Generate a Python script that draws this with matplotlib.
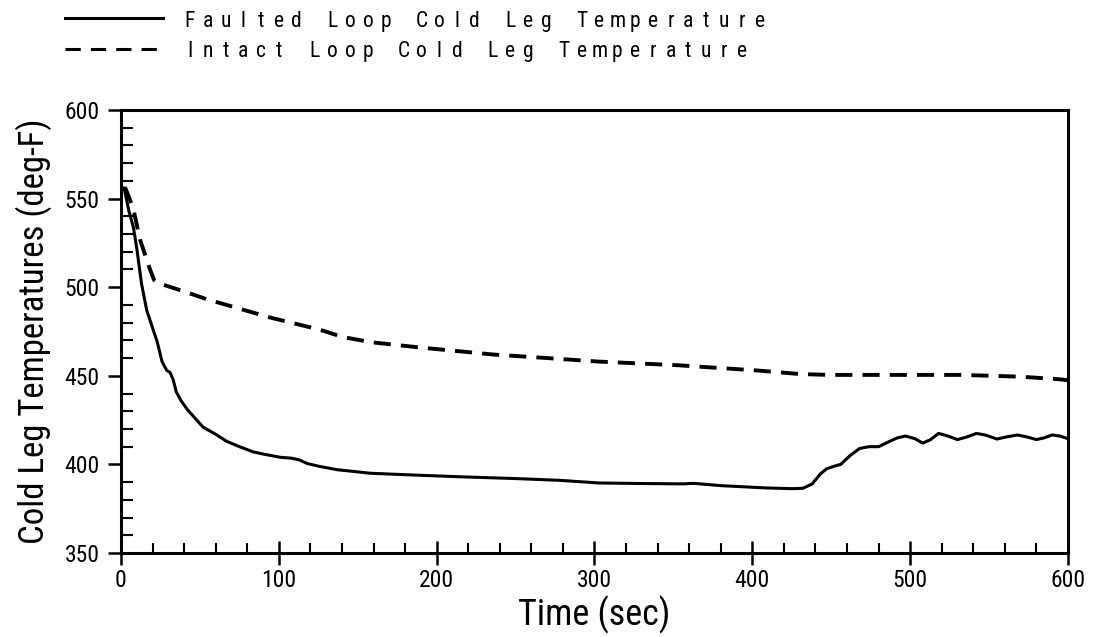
import matplotlib
matplotlib.use("Agg")
import matplotlib.pyplot as plt
from matplotlib import font_manager as fm
from matplotlib.lines import Line2D
from matplotlib.ticker import MultipleLocator

# faulted loop cold leg temperature (solid)
faulted_time = [0, 2, 5, 7.8, 10, 13, 16.3, 20, 23, 26, 29, 31, 33, 35, 38, 42, 47, 52,
                60, 67, 75, 84, 92, 101, 108, 113, 118, 125, 137, 158, 185, 215, 250, 278,
                303, 330, 356, 363, 380, 409, 425, 432, 438, 443, 447, 452, 456, 462, 468,
                474, 480, 487, 492, 497, 503, 508, 513, 518, 524, 530, 536, 542, 548, 555,
                561, 568, 574, 580, 585, 590, 595, 600]
faulted_temp = [556, 556, 543, 534, 522, 502, 487, 477, 469, 458, 453, 452, 448, 441, 436,
                431, 426, 421, 417, 413, 410, 407, 405.5, 404, 403.5, 402.5, 400.5, 399, 397,
                395, 394, 393, 392, 391, 389.5, 389.2, 389, 389.3, 388, 386.7, 386.3, 386.5,
                389, 394.5, 397.5, 399, 400, 405, 409, 410, 410, 413, 415, 416, 414.5, 412,
                414, 417.5, 416, 414, 415.5, 417.5, 416.5, 414.3, 415.5, 416.6, 415.5, 414,
                415, 416.6, 416, 414.5]

# intact loop cold leg temperature (dashed)
intact_time = [2.5, 7.6, 12, 18.4, 21, 23, 42, 55, 63, 94, 126, 140, 158, 189, 236, 270,
               303, 352, 403, 430, 449, 533, 570, 595, 600]
intact_temp = [556.5, 545, 527, 510, 504, 502.5, 497, 493, 491, 483, 476, 472, 469, 466,
               462, 460, 458, 456, 453, 451, 450.5, 450.5, 449.5, 448, 447.5]

legend_labels = ["Faulted Loop Cold Leg Temperature",
                 "Intact Loop Cold Leg Temperature"]

# pick a narrow sans font if one is installed
names = {f.name for f in fm.fontManager.ttflist}
narrow = "DejaVu Sans"
stretch = "normal"
for cand in ["Liberation Sans Narrow", "Roboto Condensed", "Open Sans Condensed"]:
    if cand in names:
        narrow = cand
        break
else:
    if any(f.name == "DejaVu Sans" and f.stretch == "condensed" for f in fm.fontManager.ttflist):
        stretch = "condensed"

fig = plt.figure(figsize=(10.94, 6.37), dpi=100)
ax = fig.add_axes([0.1106, 0.1319, 0.8656, 0.6954])

ax.plot(faulted_time, faulted_temp, color="black", lw=2.2)
ax.plot(intact_time, intact_temp, color="black", lw=2.8, linestyle=(0, (4.4, 2.6)))

ax.set_xlim(0, 600)
ax.set_ylim(350, 600)
ax.xaxis.set_major_locator(MultipleLocator(100))
ax.xaxis.set_minor_locator(MultipleLocator(20))
ax.yaxis.set_major_locator(MultipleLocator(50))
ax.yaxis.set_minor_locator(MultipleLocator(10))

for s in ax.spines.values():
    s.set_linewidth(2.2)

ax.tick_params(axis="y", which="major", direction="out", length=9.4, width=1.8, pad=6)
ax.tick_params(axis="y", which="minor", direction="in", length=8.6, width=1.5)
ax.tick_params(axis="x", which="major", direction="inout", length=17, width=1.8, pad=3)
ax.tick_params(axis="x", which="minor", direction="in", length=7, width=1.5)

for lab in ax.get_xticklabels() + ax.get_yticklabels():
    lab.set_fontfamily(narrow)
    lab.set_fontstretch(stretch)
    lab.set_fontsize(17)

ax.set_xlabel("Time (sec)", fontsize=26, family=narrow, fontstretch=stretch, labelpad=3)
ax.set_ylabel("Cold Leg Temperatures (deg-F)", fontsize=25, family=narrow,
              fontstretch=stretch, labelpad=9)

# legend drawn above the axes with spaced-out letters
W, H = 1094, 637
rows = [(18, 27, "-"), (49, 57, (0, (5, 3.3)))]
for (ly, base, style), text in zip(rows, legend_labels):
    fig.add_artist(Line2D([65 / W, 163 / W], [1 - ly / H, 1 - ly / H], color="black",
                          lw=2.2, linestyle=style, transform=fig.transFigure))
    for i, ch in enumerate(text):
        if ch != " ":
            fig.text((190 + i * 17.8) / W, 1 - base / H, ch, ha="center", va="baseline",
                     fontsize=15.5, family=narrow, fontstretch=stretch)

fig.savefig("out.png", dpi=100)
